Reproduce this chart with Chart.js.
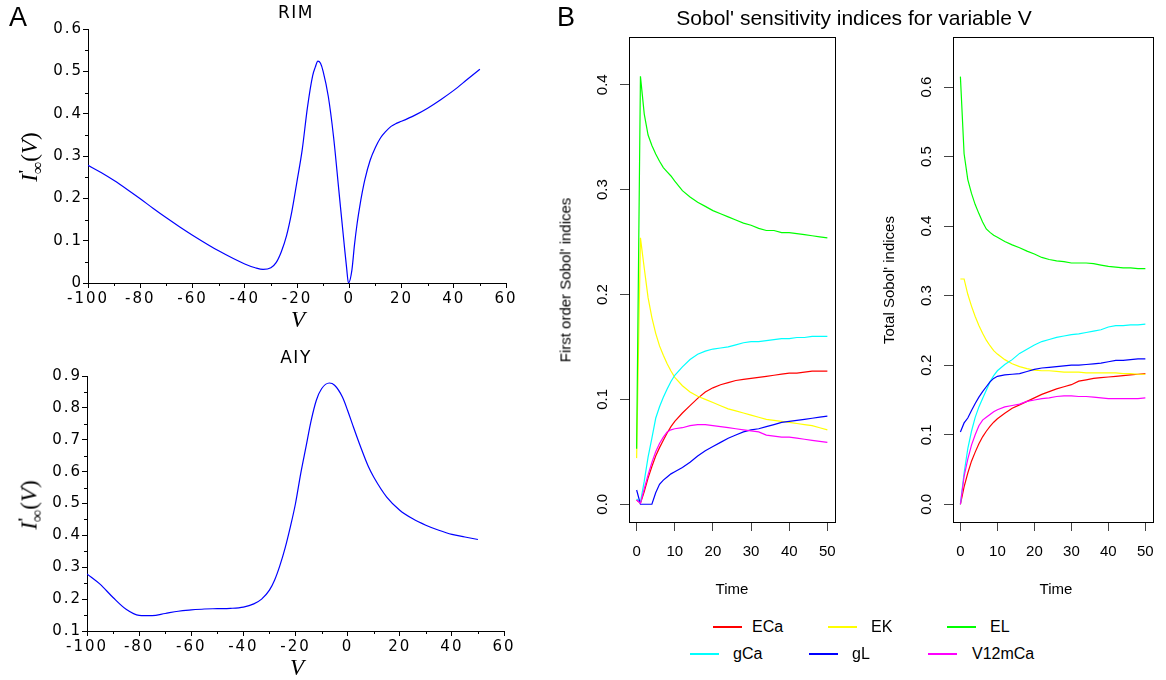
<!DOCTYPE html>
<html><head><meta charset="utf-8">
<script src="https://cdn.jsdelivr.net/npm/chart.js@4.4.0/dist/chart.umd.min.js"></script>
<style>
html,body{margin:0;padding:0;background:#fff;}
#wrap{position:relative;width:1166px;height:680px;overflow:hidden;font-family:"Liberation Sans",Arial,sans-serif;background:#fff;}
canvas{position:absolute;}
.t{position:absolute;white-space:nowrap;color:#000;line-height:1;}
.ctr{transform:translate(-50%,-50%);}
.rot{transform:translate(-50%,-50%) rotate(-90deg);}
.lm{transform:translate(0,-50%);}
.leg{position:absolute;height:2px;}
.math{font-family:"Liberation Serif","DejaVu Serif",serif;font-size:23px;}
</style></head>
<body><div id="wrap">
<canvas id="rim" width="525" height="340" style="left:0;top:0;width:525px;height:340px"></canvas>
<canvas id="aiy" width="525" height="340" style="left:0;top:340px;width:525px;height:340px"></canvas>
<canvas id="first" width="290" height="610" style="left:560px;top:0;width:290px;height:610px"></canvas>
<canvas id="total" width="286" height="610" style="left:880px;top:0;width:286px;height:610px"></canvas>

<div class="t ctr" style="left:18px;top:17px;font-size:27px;">A</div>
<div class="t ctr" style="left:566px;top:17px;font-size:27px;">B</div>
<div class="t ctr" style="left:296px;top:12px;font-size:17px;font-family:'DejaVu Sans';letter-spacing:1.5px;">RIM</div>
<div class="t ctr" style="left:296px;top:357px;font-size:17px;font-family:'DejaVu Sans';letter-spacing:1.5px;">AIY</div>
<div class="t rot math" style="left:31px;top:157px;"><i>I</i><span style="display:inline-block;vertical-align:-0.35em;line-height:0.75;font-size:0.75em;"><b style="display:block;">'</b><span style="display:block;">∞</span></span>(<i>V</i>)</div>
<div class="t rot math" style="left:31px;top:505px;"><i>I</i><span style="display:inline-block;vertical-align:-0.35em;line-height:0.75;font-size:0.75em;"><b style="display:block;">'</b><span style="display:block;">∞</span></span>(<i>V</i>)</div>
<div class="t ctr math" style="left:298px;top:319px;font-size:23px;"><i>V</i></div>
<div class="t ctr math" style="left:297px;top:667px;font-size:23px;"><i>V</i></div>

<div class="t ctr" style="left:854px;top:17px;font-size:21px;">Sobol' sensitivity indices for variable V</div>
<div class="t rot" style="left:565px;top:280px;font-size:15px;">First order Sobol' indices</div>
<div class="t rot" style="left:888px;top:280px;font-size:15px;">Total Sobol' indices</div>
<div class="t ctr" style="left:732px;top:588px;font-size:15px;">Time</div>
<div class="t ctr" style="left:1056px;top:588px;font-size:15px;">Time</div>
<div id="legend"></div>
</div>
<script>
// ---------------- DATA ----------------
const rimV = [-100,-95,-90,-85,-80,-75,-70,-65,-60,-50,-40,-36,-33,-30,-28,-26,-24,-22,-20,-18,-16,-14,-13,-12,-11,-10,-8,-6,-4,-2,-1,-0.3,1,2,3,4,5,6,8,10,12,14,16,18,20,25,30,35,40,45,50];
const rimI = [0.278,0.261,0.242,0.221,0.199,0.176,0.154,0.133,0.113,0.076,0.045,0.036,0.032,0.036,0.048,0.074,0.112,0.168,0.240,0.315,0.415,0.490,0.510,0.524,0.519,0.500,0.440,0.345,0.220,0.095,0.035,0.0,0.03,0.09,0.14,0.18,0.215,0.245,0.29,0.32,0.343,0.358,0.37,0.377,0.382,0.396,0.413,0.433,0.455,0.48,0.505];

const aiyV = [-100,-95,-90,-85,-80,-75,-70,-65,-60,-55,-50,-45,-40,-36,-33,-30,-28,-26,-24,-22,-20,-18,-16,-14,-12,-10,-7,-5,-2,0,2,5,8,10,15,20,25,30,35,40,45,50];
const aiyI = [0.279,0.247,0.205,0.168,0.149,0.148,0.155,0.162,0.166,0.169,0.170,0.171,0.175,0.185,0.200,0.228,0.260,0.305,0.360,0.426,0.500,0.594,0.677,0.760,0.824,0.860,0.878,0.871,0.834,0.792,0.745,0.677,0.615,0.583,0.520,0.479,0.452,0.432,0.416,0.403,0.395,0.387];

const vTicks = [-100,-80,-60,-40,-20,0,20,40,60];
const vMinor = [-90,-70,-50,-30,-10,10,30,50];
const rimTicks = [0,0.1,0.2,0.3,0.4,0.5,0.6];
const rimMinor = [0.05,0.15,0.25,0.35,0.45,0.55];
const aiyTicks = [0.1,0.2,0.3,0.4,0.5,0.6,0.7,0.8,0.9];
const aiyMinor = [0.15,0.25,0.35,0.45,0.55,0.65,0.75,0.85];

const params = ['ECa','EK','EL','gCa','gL','V12mCa'];
const time = [0,1,2,3,4,5,6,7,8,9,10,12,14,16,18,20,22,24,26,28,30,32,34,36,38,40,42,44,46,48,50];

const firstECa    = [0.004,0.001,0.012,0.025,0.036,0.046,0.054,0.061,0.068,0.074,0.079,0.087,0.094,0.101,0.107,0.111,0.114,0.116,0.118,0.119,0.120,0.121,0.122,0.123,0.124,0.125,0.125,0.126,0.127,0.127,0.127];
const firstEK     = [0.044,0.254,0.225,0.197,0.178,0.163,0.151,0.142,0.134,0.127,0.121,0.113,0.107,0.103,0.100,0.097,0.094,0.091,0.089,0.087,0.085,0.083,0.081,0.080,0.079,0.078,0.077,0.076,0.075,0.073,0.071];
const firstEL     = [0.053,0.408,0.372,0.352,0.342,0.334,0.327,0.321,0.317,0.313,0.308,0.299,0.293,0.288,0.284,0.280,0.277,0.274,0.271,0.268,0.266,0.263,0.261,0.261,0.259,0.259,0.258,0.257,0.256,0.255,0.254];
const firstGCa    = [0.005,0.002,0.022,0.045,0.063,0.082,0.093,0.102,0.110,0.117,0.123,0.131,0.138,0.143,0.146,0.148,0.149,0.150,0.152,0.154,0.155,0.155,0.156,0.157,0.158,0.158,0.159,0.159,0.160,0.160,0.160];
const firstGL     = [0.0136,0,0,0,0,0.011,0.019,0.023,0.026,0.029,0.031,0.035,0.040,0.046,0.051,0.055,0.059,0.063,0.066,0.069,0.071,0.072,0.074,0.076,0.078,0.079,0.080,0.081,0.082,0.083,0.084];
const firstV12mCa = [0.004,0.001,0.015,0.028,0.040,0.050,0.058,0.064,0.069,0.071,0.072,0.073,0.075,0.076,0.076,0.075,0.074,0.073,0.072,0.071,0.070,0.069,0.066,0.065,0.064,0.064,0.063,0.062,0.061,0.060,0.059];

const totalECa    = [0.0,0.025,0.045,0.062,0.075,0.087,0.097,0.105,0.112,0.118,0.123,0.131,0.138,0.143,0.148,0.153,0.158,0.162,0.166,0.169,0.172,0.177,0.179,0.181,0.182,0.183,0.184,0.185,0.186,0.187,0.188];
const totalEK     = [0.324,0.324,0.302,0.285,0.270,0.257,0.246,0.236,0.228,0.221,0.216,0.208,0.202,0.198,0.195,0.193,0.192,0.192,0.191,0.190,0.190,0.190,0.189,0.189,0.189,0.189,0.189,0.188,0.188,0.187,0.187];
const totalEL     = [0.615,0.504,0.467,0.447,0.431,0.418,0.406,0.396,0.391,0.387,0.384,0.378,0.373,0.369,0.364,0.360,0.355,0.352,0.350,0.349,0.347,0.347,0.347,0.346,0.344,0.342,0.341,0.340,0.340,0.339,0.339];
const totalGCa    = [0.0,0.045,0.080,0.105,0.125,0.140,0.152,0.164,0.176,0.185,0.192,0.201,0.208,0.217,0.223,0.229,0.234,0.237,0.240,0.242,0.244,0.245,0.247,0.249,0.251,0.255,0.257,0.257,0.258,0.258,0.259];
const totalGL     = [0.104,0.117,0.124,0.135,0.145,0.154,0.162,0.169,0.176,0.181,0.184,0.186,0.187,0.188,0.191,0.194,0.196,0.197,0.198,0.199,0.200,0.200,0.201,0.202,0.203,0.205,0.207,0.207,0.208,0.209,0.209];
const totalV12mCa = [0.0,0.040,0.065,0.085,0.100,0.113,0.121,0.125,0.129,0.133,0.136,0.140,0.142,0.144,0.148,0.150,0.152,0.153,0.155,0.156,0.156,0.155,0.155,0.154,0.153,0.152,0.152,0.152,0.152,0.152,0.153];

const timeTicks = [0,10,20,30,40,50];
const firstTicks = [0,0.1,0.2,0.3,0.4];
const totalTicks = [0,0.1,0.2,0.3,0.4,0.5,0.6];

// ---------------- STYLE ----------------
const seriesColors = ['#ff0000','#ffff00','#00ff00','#00ffff','#0000ff','#ff00ff'];

const minorTicksPlugin = {
  id: 'minorTicks',
  afterDraw(chart, args, opts) {
    const ctx = chart.ctx, ca = chart.chartArea;
    ctx.save(); ctx.strokeStyle = '#000'; ctx.lineWidth = 1;
    (opts.x || []).forEach(v => {
      const px = Math.round(chart.scales.x.getPixelForValue(v)) + 0.5;
      ctx.beginPath(); ctx.moveTo(px, ca.bottom); ctx.lineTo(px, ca.bottom + opts.len); ctx.stroke();
    });
    (opts.y || []).forEach(v => {
      const py = Math.round(chart.scales.y.getPixelForValue(v)) + 0.5;
      ctx.beginPath(); ctx.moveTo(ca.left, py); ctx.lineTo(ca.left - opts.len, py); ctx.stroke();
    });
    ctx.restore();
  }
};
const spacingPlugin = {
  id: 'spacing',
  beforeUpdate(chart, args, opts) { chart.ctx.letterSpacing = opts.value || '0px'; },
  beforeDraw(chart, args, opts) { chart.ctx.letterSpacing = opts.value || '0px'; }
};
const boxPlugin = {
  id: 'box',
  afterDraw(chart) {
    const {left, top, right, bottom} = chart.chartArea, ctx = chart.ctx;
    ctx.save(); ctx.strokeStyle = '#000'; ctx.lineWidth = 1;
    ctx.strokeRect(Math.round(left) + 0.5, Math.round(top) + 0.5, Math.round(right - left), Math.round(bottom - top));
    ctx.restore();
  }
};

function fmtA(v) { return String(+(+v).toFixed(2)); }

function panelA(id, V, I, yMin, yMax, yTicks, yMinor, area, W, H) {
  return new Chart(document.getElementById(id), {
    type: 'line',
    data: { datasets: [{ data: V.map((v, i) => ({x: v, y: I[i]})), borderColor: '#0000ff', borderWidth: 1.2,
      pointRadius: 0, cubicInterpolationMode: 'monotone', fill: false }] },
    options: {
      responsive: false, animation: false, devicePixelRatio: 1,
      layout: { padding: { left: 0, top: area.top, right: W - area.right, bottom: 0 } },
      plugins: { legend: {display: false}, tooltip: {enabled: false}, minorTicks: {x: vMinor, y: yMinor, len: 3}, spacing: {value: '2px'} },
      scales: {
        x: { type: 'linear', min: -100, max: 60,
          afterBuildTicks: s => { s.ticks = vTicks.map(v => ({value: v})); },
          afterFit: s => { s.height = H - area.bottom; },
          grid: { drawOnChartArea: false, drawTicks: true, tickLength: 5, color: '#000' },
          border: { color: '#000', width: 1 },
          ticks: { padding: 2, color: '#000', maxRotation: 0, autoSkip: false, font: {family: 'DejaVu Sans', size: 15}, callback: fmtA } },
        y: { type: 'linear', min: yMin, max: yMax,
          afterBuildTicks: s => { s.ticks = yTicks.map(v => ({value: v})); },
          afterFit: s => { s.width = area.left; },
          grid: { drawOnChartArea: false, drawTicks: true, tickLength: 5, color: '#000' },
          border: { color: '#000', width: 1 },
          ticks: { padding: 0, color: '#000', autoSkip: false, font: {family: 'DejaVu Sans', size: 15}, callback: fmtA } }
      }
    },
    plugins: [spacingPlugin, minorTicksPlugin]
  });
}

panelA('rim', rimV, rimI, 0, 0.6, rimTicks, rimMinor, {left: 88, right: 506, top: 29, bottom: 283}, 525, 340);
panelA('aiy', aiyV, aiyI, 0.1, 0.9, aiyTicks, aiyMinor, {left: 87, right: 504, top: 36, bottom: 291}, 525, 340);

function panelB(id, series, yMin, yMax, yTicks, area, W, H) {
  return new Chart(document.getElementById(id), {
    type: 'line',
    data: { datasets: series.map((s, i) => ({ label: params[i], data: time.map((t, k) => ({x: t, y: s[k]})),
      borderColor: seriesColors[i], borderWidth: 1.2, pointRadius: 0, tension: 0, fill: false, order: series.length - i })) },
    options: {
      responsive: false, animation: false, devicePixelRatio: 1,
      layout: { padding: { left: 0, top: area.top, right: W - area.right, bottom: 0 } },
      plugins: { legend: {display: false}, tooltip: {enabled: false} },
      scales: {
        x: { type: 'linear', min: -2, max: 52,
          afterBuildTicks: s => { s.ticks = timeTicks.map(v => ({value: v})); },
          afterFit: s => { s.height = H - area.bottom; },
          grid: { drawOnChartArea: false, drawTicks: true, tickLength: 9, color: '#444' },
          border: { display: false },
          ticks: { padding: 12, color: '#000', maxRotation: 0, autoSkip: false, font: {family: 'Liberation Sans', size: 15}, callback: v => String(v) } },
        y: { type: 'linear', min: yMin, max: yMax,
          afterBuildTicks: s => { s.ticks = yTicks.map(v => ({value: v})); },
          afterFit: s => { s.width = area.left; },
          grid: { drawOnChartArea: false, drawTicks: true, tickLength: 9, color: '#444' },
          border: { display: false },
          ticks: { padding: 7, color: '#000', autoSkip: false, minRotation: 90, maxRotation: 90, crossAlign: 'center',
            font: {family: 'Liberation Sans', size: 15}, callback: v => (+v).toFixed(1) } }
      }
    },
    plugins: [boxPlugin]
  });
}

panelB('first', [firstECa, firstEK, firstEL, firstGCa, firstGL, firstV12mCa], -0.0169, 0.4455, firstTicks,
  {left: 69, right: 275, top: 37, bottom: 522}, 290, 610);
panelB('total', [totalECa, totalEK, totalEL, totalGCa, totalGL, totalV12mCa], -0.0255, 0.672, totalTicks,
  {left: 73, right: 278, top: 37, bottom: 522}, 286, 610);

// legend (HTML)
const legendPos = [[713, 627, 752], [828, 627, 871], [947, 627, 990], [690, 654, 733], [809, 654, 852], [928, 654, 972]];
const lg = document.getElementById('legend');
params.forEach((p, i) => {
  const [lx, ly, tx] = legendPos[i];
  const line = document.createElement('div');
  line.className = 'leg';
  line.style.cssText = `left:${lx}px;top:${ly - 1}px;width:29px;background:${seriesColors[i]};`;
  lg.appendChild(line);
  const tt = document.createElement('div');
  tt.className = 't lm';
  tt.style.cssText = `left:${tx}px;top:${ly}px;font-size:16px;`;
  tt.textContent = p;
  lg.appendChild(tt);
});
</script>
</body></html>
